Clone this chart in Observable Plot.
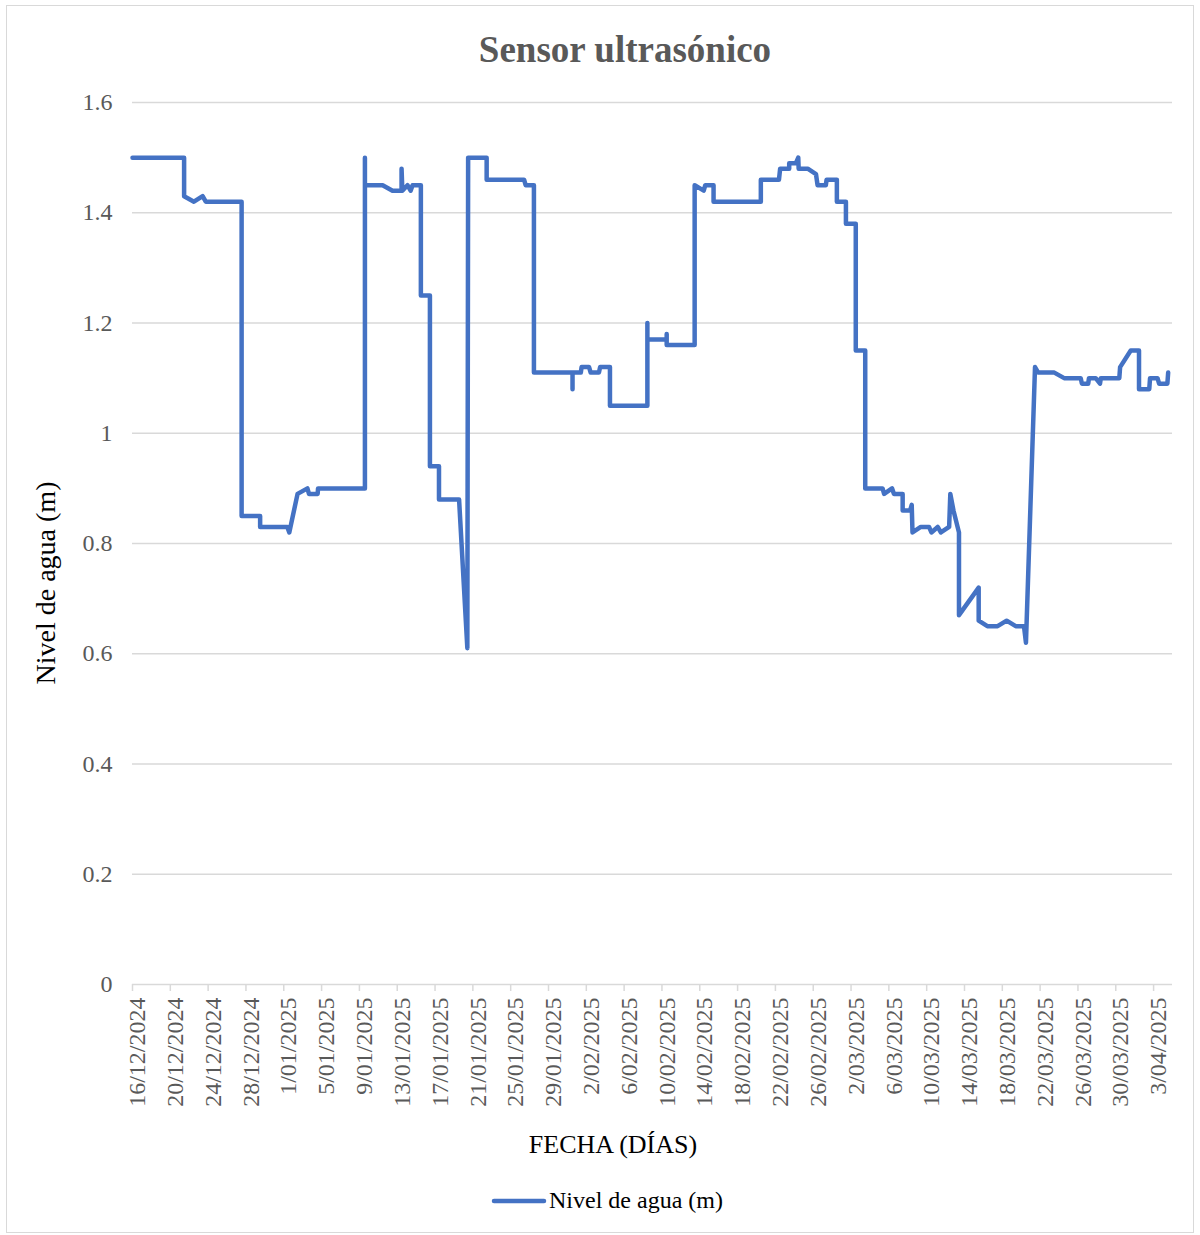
<!DOCTYPE html>
<html>
<head>
<meta charset="utf-8">
<script src="https://cdn.jsdelivr.net/npm/d3@7"></script>
<script src="https://cdn.jsdelivr.net/npm/@observablehq/plot@0.6"></script>
<style>
  html, body { margin: 0; padding: 0; background: #fff; }
  #wrap { position: relative; width: 1200px; height: 1235px; overflow: hidden; font-family: "Liberation Serif", "Times New Roman", serif; }
  #frame { position: absolute; left: 6px; top: 5px; width: 1188px; height: 1228px; border: 1px solid #d9d9d9; box-sizing: border-box; }
  #chart { position: absolute; left: 0; top: 0; }
  #chart svg, #chart svg text { font-family: "Liberation Serif", "Times New Roman", serif !important; }
  #overlay { position: absolute; left: 0; top: 0; pointer-events: none; }
</style>
</head>
<body>
<div id="wrap">
  <div id="frame"></div>
  <div id="chart"></div>
  <svg id="overlay" width="1200" height="1235" xmlns="http://www.w3.org/2000/svg" font-family="Liberation Serif, Times New Roman, serif">
    <text id="title" x="625" y="62" text-anchor="middle" font-size="37" font-weight="bold" fill="#595959">Sensor ultrasónico</text>
    <text id="ytitle" transform="translate(55,583) rotate(-90)" text-anchor="middle" font-size="28" fill="#000">Nivel de agua (m)</text>
    <text id="xtitle" x="613" y="1153" text-anchor="middle" font-size="26" fill="#000">FECHA (DÍAS)</text>
    <line id="legline" x1="494" y1="1201" x2="544" y2="1201" stroke="#4472C4" stroke-width="4.5" stroke-linecap="round"></line>
    <text id="legtext" x="549" y="1208" font-size="24" fill="#000">Nivel de agua (m)</text>
  </svg>
</div>
<script>
// ---- data ----
const times = [
  "2024-12-16 00:00","2024-12-21 11:00","2024-12-21 11:00","2024-12-22 12:00","2024-12-23 10:00",
  "2024-12-23 18:00","2024-12-27 13:00","2024-12-27 13:00","2024-12-29 12:00","2024-12-29 12:00",
  "2025-01-01 09:00","2025-01-01 14:00","2025-01-02 11:00","2025-01-03 12:00","2025-01-03 16:00",
  "2025-01-04 14:00","2025-01-04 15:00","2025-01-09 14:00","2025-01-09 14:00","2025-01-09 14:00",
  "2025-01-11 11:00","2025-01-12 12:00","2025-01-13 11:00","2025-01-13 11:00","2025-01-13 13:00",
  "2025-01-14 02:00","2025-01-14 10:00","2025-01-14 15:00","2025-01-15 12:00","2025-01-15 12:00",
  "2025-01-16 11:00","2025-01-16 11:00","2025-01-17 10:00","2025-01-17 10:00","2025-01-19 13:00",
  "2025-01-20 10:00","2025-01-20 12:00","2025-01-22 11:00","2025-01-22 11:00","2025-01-26 10:00",
  "2025-01-26 14:00","2025-01-27 11:00","2025-01-27 11:00","2025-01-31 13:00","2025-01-31 13:00",
  "2025-01-31 13:00","2025-02-01 10:00","2025-02-01 12:00","2025-02-02 07:00","2025-02-02 11:00",
  "2025-02-03 08:00","2025-02-03 11:00","2025-02-04 12:00","2025-02-04 12:00","2025-02-08 11:00",
  "2025-02-08 11:00","2025-02-08 11:00","2025-02-10 12:00","2025-02-10 12:00","2025-02-10 12:00",
  "2025-02-13 11:00","2025-02-13 11:00","2025-02-14 10:00","2025-02-14 14:00","2025-02-15 11:00",
  "2025-02-15 11:00","2025-02-20 11:00","2025-02-20 11:00","2025-02-22 09:00","2025-02-22 12:00",
  "2025-02-23 11:00","2025-02-23 11:00","2025-02-24 04:00","2025-02-24 10:00","2025-02-24 11:00",
  "2025-02-25 10:00","2025-02-26 07:00","2025-02-26 11:00","2025-02-27 08:00","2025-02-27 10:00",
  "2025-02-28 12:00","2025-02-28 12:00","2025-03-01 11:00","2025-03-01 11:00","2025-03-02 12:00",
  "2025-03-02 12:00","2025-03-03 12:00","2025-03-03 12:00","2025-03-05 08:00","2025-03-05 12:00",
  "2025-03-06 08:00","2025-03-06 13:00","2025-03-07 11:00","2025-03-07 11:00","2025-03-08 06:00",
  "2025-03-08 10:00","2025-03-08 12:00","2025-03-09 09:00","2025-03-10 06:00","2025-03-10 12:00",
  "2025-03-11 04:00","2025-03-11 12:00","2025-03-12 09:00","2025-03-12 12:00","2025-03-12 20:00",
  "2025-03-13 10:00","2025-03-13 10:00","2025-03-15 12:00","2025-03-15 12:00","2025-03-16 10:00",
  "2025-03-17 12:00","2025-03-18 11:00","2025-03-19 10:00","2025-03-20 07:00","2025-03-20 12:00",
  "2025-03-21 11:00","2025-03-21 19:00","2025-03-23 12:00","2025-03-24 13:00","2025-03-26 07:00",
  "2025-03-26 10:00","2025-03-27 02:00","2025-03-27 04:00","2025-03-27 21:00","2025-03-28 08:00",
  "2025-03-28 10:00","2025-03-30 09:00","2025-03-30 11:00","2025-03-31 14:00","2025-04-01 11:00",
  "2025-04-01 11:00","2025-04-02 13:00","2025-04-02 15:00","2025-04-03 10:00","2025-04-03 14:00",
  "2025-04-04 11:00","2025-04-04 13:00"
];
const levels = [
  1.50,1.50,1.43,1.42,1.43,
  1.42,1.42,0.85,0.85,0.83,
  0.83,0.82,0.89,0.90,0.89,
  0.89,0.90,0.90,1.50,1.45,
  1.45,1.44,1.44,1.48,1.44,
  1.45,1.44,1.45,1.45,1.25,
  1.25,0.94,0.94,0.88,0.88,
  0.61,1.50,1.50,1.46,1.46,
  1.45,1.45,1.11,1.11,1.08,
  1.11,1.11,1.12,1.12,1.11,
  1.11,1.12,1.12,1.05,1.05,
  1.20,1.17,1.17,1.18,1.16,
  1.16,1.45,1.44,1.45,1.45,
  1.42,1.42,1.46,1.46,1.48,
  1.48,1.49,1.49,1.50,1.48,
  1.48,1.47,1.45,1.45,1.46,
  1.46,1.42,1.42,1.38,1.38,
  1.15,1.15,0.90,0.90,0.89,
  0.90,0.89,0.89,0.86,0.86,
  0.87,0.82,0.83,0.83,0.82,
  0.83,0.82,0.83,0.89,0.86,
  0.82,0.67,0.72,0.66,0.65,
  0.65,0.66,0.65,0.65,0.62,
  1.12,1.11,1.11,1.10,1.10,
  1.09,1.09,1.10,1.10,1.09,
  1.10,1.10,1.12,1.15,1.15,
  1.08,1.08,1.10,1.10,1.09,
  1.09,1.11
];
const xDomain = ["2024-12-16 00:00", "2025-04-05 00:00"];
const xTicks = [
  "2024-12-16","2024-12-20","2024-12-24","2024-12-28","2025-01-01","2025-01-05","2025-01-09",
  "2025-01-13","2025-01-17","2025-01-21","2025-01-25","2025-01-29","2025-02-02","2025-02-06",
  "2025-02-10","2025-02-14","2025-02-18","2025-02-22","2025-02-26","2025-03-02","2025-03-06",
  "2025-03-10","2025-03-14","2025-03-18","2025-03-22","2025-03-26","2025-03-30","2025-04-03"
];
const yTicks = [0, 0.2, 0.4, 0.6, 0.8, 1, 1.2, 1.4, 1.6];
const yTickLabels = ["0", "0.2", "0.4", "0.6", "0.8", "1", "1.2", "1.4", "1.6"];

// ---- build ----
const parseT = d3.utcParse("%Y-%m-%d %H:%M");
const parseD = d3.utcParse("%Y-%m-%d");
const data = times.map((t, i) => ({date: parseT(t), value: levels[i]}));
const tickDates = xTicks.map(parseD);
const fmtDate = d => `${d.getUTCDate()}/${String(d.getUTCMonth() + 1).padStart(2, "0")}/${d.getUTCFullYear()}`;
const yLabel = new Map(yTicks.map((v, i) => [v, yTickLabels[i]]));
const serif = "Liberation Serif, Times New Roman, serif";

const chart = Plot.plot({
  width: 1200,
  height: 1130,
  marginLeft: 132,
  marginRight: 28,
  marginTop: 102,
  marginBottom: 146,
  style: "font-family: 'Liberation Serif', 'Times New Roman', serif; font-size: 24px; color: #595959; background: transparent;",
  x: {type: "utc", domain: xDomain.map(parseT)},
  y: {domain: [0, 1.6]},
  marks: [
    Plot.gridY(yTicks, {stroke: "#d9d9d9", strokeOpacity: 1, strokeWidth: 1.5}),
    Plot.axisY(yTicks, {tickSize: 0, tickPadding: 20, tickFormat: d => yLabel.get(d), fill: "#595959", fontFamily: serif, fontSize: 24, label: null}),
    // tick marks (no labels)
    Plot.axisX(tickDates, {tickSize: 7, tickFormat: () => "", stroke: "#d9d9d9", strokeOpacity: 1, strokeWidth: 1.5, label: null}),
    // rotated date labels, nudged right like the reference
    Plot.axisX(tickDates, {tickSize: 0, tickPadding: 13, tickRotate: -90, tickFormat: fmtDate, fill: "#595959", fontFamily: serif, fontSize: 24, dx: 5, label: null}),
    Plot.line(data, {x: "date", y: "value", stroke: "#4472C4", strokeWidth: 4.5, strokeLinejoin: "round", strokeLinecap: "round"})
  ]
});
document.getElementById("chart").appendChild(chart);
</script>
</body>
</html>
